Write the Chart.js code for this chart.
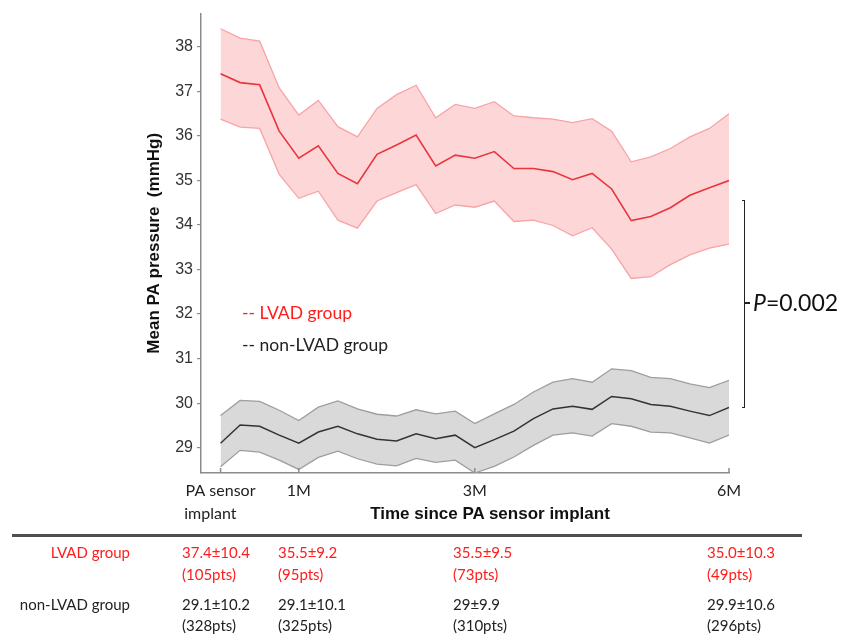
<!DOCTYPE html>
<html>
<head>
<meta charset="utf-8">
<script src="https://cdn.jsdelivr.net/npm/chart.js@4.4.1/dist/chart.umd.min.js"></script>
<style>
  html, body { margin: 0; padding: 0; background: #fff; }
  #wrap { position: relative; width: 843px; height: 638px; overflow: hidden; }
  #c { position: absolute; left: 0; top: 0; }
  .t { position: absolute; white-space: nowrap; line-height: 1; transform: translateY(-50%);
       font-family: Lato, "Open Sans", sans-serif; }
  .red { color: #ff1c1c; }
  .blk { color: #222; }
  .tbl { font-size: 15px; }
  .right { transform: translate(-100%, -50%); }
  #xtitle { font-family: "Liberation Sans", Arial, sans-serif; font-weight: bold; font-size: 17px;
            color: #111; transform: translate(-50%, -50%); }
  #rule { position: absolute; left: 12px; top: 534px; width: 790px; height: 3px; background: #4f4f4f; }
  #bracket { position: absolute; left: 742px; top: 200px; width: 2px; height: 206px;
             border: 1.5px solid #222; border-left: none; }
  #bracketTick { position: absolute; left: 745px; top: 302px; width: 5px; height: 1.5px; background: #222; }
  #pval { font-size: 23px; color: #111; }
  .leg { font-size: 17.5px; }
</style>
</head>
<body>
<div id="wrap">
  <canvas id="c" width="843" height="638"></canvas>

  <div class="t leg red" style="left:242px; top:313px;">-- LVAD group</div>
  <div class="t leg blk" style="left:242px; top:345px;">-- non-LVAD group</div>

  <div id="bracket"></div>
  <div id="bracketTick"></div>
  <div id="pval" class="t" style="left:753px; top:302px;"><i>P</i>=0.002</div>

  <div id="xtitle" class="t" style="left:490px; top:513px;">Time since PA sensor implant</div>
  <div id="rule"></div>
  <div id="table"></div>
</div>

<script>
// Weekly follow-up after PA sensor implant (week 0 .. week 26)
const weeks = [0, 1, 2, 3, 4, 5, 6, 7, 8, 9, 10, 11, 12, 13, 14, 15, 16, 17, 18, 19, 20, 21, 22, 23, 24, 25, 26];

// LVAD group: mean PA pressure and confidence band (mmHg)
const lvadMean  = [37.4, 37.20, 37.15, 36.11, 35.5, 35.78, 35.16, 34.93, 35.59, 35.80, 36.02, 35.33, 35.57, 35.5, 35.65, 35.27, 35.27, 35.20, 35.02, 35.16, 34.81, 34.10, 34.19, 34.39, 34.67, 34.84, 35.0];
const lvadUpper = [38.41, 38.20, 38.13, 37.08, 36.47, 36.80, 36.21, 35.98, 36.62, 36.93, 37.14, 36.41, 36.71, 36.62, 36.77, 36.45, 36.41, 36.38, 36.30, 36.39, 36.11, 35.42, 35.53, 35.72, 35.98, 36.17, 36.50];
const lvadLower = [36.38, 36.20, 36.17, 35.14, 34.60, 34.76, 34.11, 33.93, 34.54, 34.73, 34.91, 34.26, 34.45, 34.40, 34.54, 34.08, 34.11, 33.99, 33.76, 33.94, 33.46, 32.80, 32.84, 33.11, 33.33, 33.48, 33.57];

// non-LVAD group: mean PA pressure and confidence band (mmHg)
const nonMean  = [29.1, 29.51, 29.48, 29.28, 29.1, 29.35, 29.48, 29.31, 29.19, 29.15, 29.31, 29.20, 29.28, 29.0, 29.18, 29.37, 29.65, 29.87, 29.93, 29.86, 30.15, 30.10, 29.97, 29.93, 29.82, 29.72, 29.9];
const nonUpper = [29.72, 30.06, 30.04, 29.84, 29.61, 29.91, 30.05, 29.87, 29.75, 29.71, 29.85, 29.76, 29.82, 29.54, 29.76, 29.97, 30.25, 30.47, 30.55, 30.47, 30.77, 30.73, 30.58, 30.55, 30.43, 30.35, 30.51];
const nonLower = [28.57, 28.94, 28.90, 28.72, 28.51, 28.78, 28.92, 28.75, 28.63, 28.59, 28.76, 28.67, 28.72, 28.43, 28.58, 28.79, 29.05, 29.28, 29.33, 29.26, 29.54, 29.48, 29.35, 29.33, 29.22, 29.10, 29.28];

// Axis ticks
const tickWeeks  = [0, 4, 13, 26];
const tickLabels = [["PA sensor", "implant     "], "1M", "3M", "6M"];
const yTicks     = [29, 30, 31, 32, 33, 34, 35, 36, 37, 38];

// Summary table below the plot
const groupNames   = ["LVAD group", "non-LVAD group"];
const lvadSummary  = ["37.4±10.4", "35.5±9.2", "35.5±9.5", "35.0±10.3"];
const lvadCounts   = ["(105pts)", "(95pts)", "(73pts)", "(49pts)"];
const nonSummary   = ["29.1±10.2", "29.1±10.1", "29±9.9", "29.9±10.6"];
const nonCounts    = ["(328pts)", "(325pts)", "(310pts)", "(296pts)"];

const pts = arr => weeks.map((w, i) => ({ x: w, y: arr[i] }));

// small inward tick marks on the time axis
const innerTicks = {
  id: 'innerTicks',
  afterDraw(chart) {
    const s = chart.scales.x, ctx = chart.ctx;
    ctx.save();
    ctx.strokeStyle = '#8c8c8c';
    ctx.lineWidth = 1.5;
    s.ticks.forEach(t => {
      const px = s.getPixelForValue(t.value);
      ctx.beginPath();
      ctx.moveTo(px, s.top);
      ctx.lineTo(px, s.top - 5);
      ctx.stroke();
    });
    ctx.restore();
  }
};

Chart.defaults.font.family = "'Liberation Sans', Arial, sans-serif";

new Chart(document.getElementById('c'), {
  type: 'line',
  data: {
    datasets: [
      { data: pts(lvadMean),  borderColor: '#e8363c', borderWidth: 1.6, fill: false },
      { data: pts(lvadUpper), borderColor: '#f7a4a7', borderWidth: 1.3, fill: '+1',
        backgroundColor: 'rgba(253,214,216,1)' },
      { data: pts(lvadLower), borderColor: '#f7a4a7', borderWidth: 1.3, fill: false },
      { data: pts(nonMean),   borderColor: '#333333', borderWidth: 1.5, fill: false },
      { data: pts(nonUpper),  borderColor: '#9e9e9e', borderWidth: 1.3, fill: '+1',
        backgroundColor: 'rgba(217,217,217,1)' },
      { data: pts(nonLower),  borderColor: '#9e9e9e', borderWidth: 1.3, fill: false }
    ]
  },
  options: {
    responsive: false,
    animation: false,
    elements: { point: { radius: 0 }, line: { tension: 0 } },
    layout: { padding: { left: 144, right: 114, top: 11, bottom: 105 } },
    plugins: {
      legend: { display: false },
      tooltip: { enabled: false },
      filler: { drawTime: 'beforeDatasetsDraw' }
    },
    scales: {
      x: {
        type: 'linear',
        min: -1,
        max: 26,
        afterBuildTicks: s => { s.ticks = tickWeeks.map(v => ({ value: v })); },
        afterFit: s => { s.height = 60; },
        grid: { display: false, drawTicks: false },
        border: { display: true, color: '#8c8c8c', width: 1.5 },
        ticks: {
          autoSkip: false, maxRotation: 0, padding: 6, color: '#222',
          font: { family: 'Lato', size: 16, lineHeight: 1.45 },
          callback: v => tickLabels[tickWeeks.indexOf(v)]
        }
      },
      y: {
        min: 28.43,
        max: 38.75,
        afterBuildTicks: s => { s.ticks = yTicks.map(v => ({ value: v })); },
        afterFit: s => { s.width = 57; },
        grid: { drawOnChartArea: false, drawTicks: true, tickLength: 4, color: '#8c8c8c', lineWidth: 1.2 },
        border: { display: true, color: '#8c8c8c', width: 1.5 },
        ticks: { padding: 4, color: '#333', font: { size: 16 } },
        title: {
          display: true, text: 'Mean PA pressure  (mmHg)', color: '#111',
          font: { size: 17, weight: 'bold' }, padding: { top: 0, bottom: 0 }
        }
      }
    }
  },
  plugins: [innerTicks]
});

// build the summary table
const table = document.getElementById('table');
const colX = [182, 278, 453, 707];
function addText(txt, x, y, cls) {
  const d = document.createElement('div');
  d.className = 't tbl ' + cls;
  d.style.left = x + 'px';
  d.style.top = y + 'px';
  d.textContent = txt;
  table.appendChild(d);
}
addText(groupNames[0], 130, 552, 'red right');
addText(groupNames[1], 130, 604, 'blk right');
colX.forEach((x, i) => {
  addText(lvadSummary[i], x, 552, 'red');
  addText(lvadCounts[i], x, 574, 'red');
  addText(nonSummary[i], x, 604, 'blk');
  addText(nonCounts[i], x, 625, 'blk');
});
</script>
</body>
</html>
